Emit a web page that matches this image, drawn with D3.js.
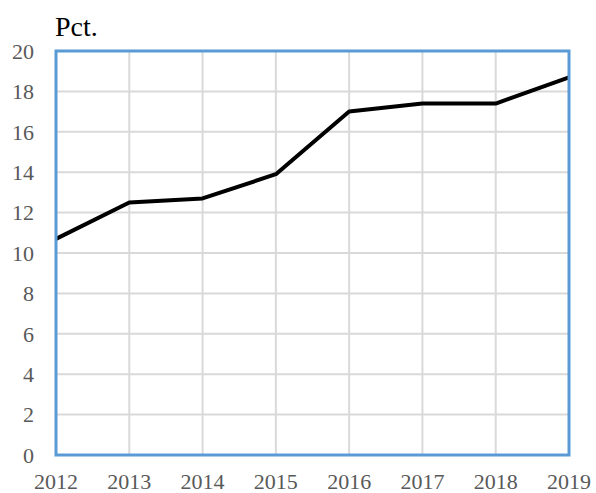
<!DOCTYPE html>
<html>
<head>
<meta charset="utf-8">
<script src="https://cdn.jsdelivr.net/npm/d3@7"></script>
<style>
  body { margin: 0; background: #fff; }
</style>
</head>
<body>
<div id="chart"></div>
<script>
// Data
const years = [2012, 2013, 2014, 2015, 2016, 2017, 2018, 2019]
const pct = [10.7, 12.5, 12.7, 13.9, 17.0, 17.4, 17.4, 18.7]
const yTicks = [0, 2, 4, 6, 8, 10, 12, 14, 16, 18, 20]

const serif = "'Liberation Serif', 'Times New Roman', 'DejaVu Serif', serif"

const margin = { top: 51, right: 27, bottom: 38, left: 56 }
const width = 596 - margin.left - margin.right
const height = 493 - margin.top - margin.bottom

const svg = d3.select("#chart").append("svg")
    .attr("width", 596)
    .attr("height", 493)
  .append("g")
    .attr("transform", "translate(" + margin.left + "," + margin.top + ")")

const x = d3.scalePoint()
  .domain(years)
  .range([0, width])

const y = d3.scaleLinear()
  .domain([0, 20])
  .range([height, 0])

// Gridlines
svg.selectAll(".hgrid")
  .data(yTicks)
  .join("line")
  .attr("class", "hgrid")
  .attr("x1", 0).attr("x2", width)
  .attr("y1", d => y(d)).attr("y2", d => y(d))
  .attr("stroke", "#d9d9d9")
  .attr("stroke-width", 2)

svg.selectAll(".vgrid")
  .data(years)
  .join("line")
  .attr("class", "vgrid")
  .attr("x1", d => x(d)).attr("x2", d => x(d))
  .attr("y1", 0).attr("y2", height)
  .attr("stroke", "#d9d9d9")
  .attr("stroke-width", 2)

// Axis labels
svg.selectAll(".ylab")
  .data(yTicks)
  .join("text")
  .attr("class", "ylab")
  .attr("x", -22)
  .attr("y", d => y(d))
  .attr("dy", "0.35em")
  .attr("text-anchor", "end")
  .attr("font-family", serif)
  .attr("font-size", 22)
  .attr("fill", "#595959")
  .text(d => d)

svg.selectAll(".xlab")
  .data(years)
  .join("text")
  .attr("class", "xlab")
  .attr("x", d => x(d))
  .attr("y", height + 34)
  .attr("text-anchor", "middle")
  .attr("font-family", serif)
  .attr("font-size", 22)
  .attr("fill", "#595959")
  .text(d => d)

svg.append("text")
  .attr("x", -1)
  .attr("y", -15)
  .attr("font-family", serif)
  .attr("font-size", 28)
  .attr("fill", "#000")
  .text("Pct.")

// Line
const line = d3.line()
  .x((d, i) => x(years[i]))
  .y(d => y(d))

svg.append("path")
  .datum(pct)
  .attr("d", line)
  .attr("fill", "none")
  .attr("stroke", "#000")
  .attr("stroke-width", 4)
  .attr("stroke-linejoin", "round")

// Plot frame
svg.append("rect")
  .attr("x", 0).attr("y", 0)
  .attr("width", width).attr("height", height)
  .attr("fill", "none")
  .attr("stroke", "#5b9bd5")
  .attr("stroke-width", 3)
</script>
</body>
</html>
